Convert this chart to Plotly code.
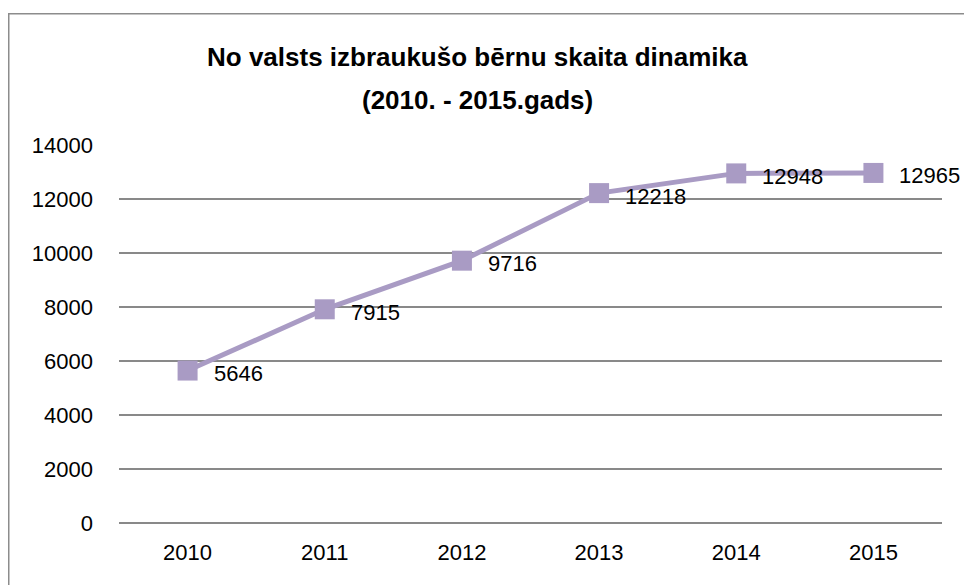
import plotly.graph_objects as go

years = ["2010", "2011", "2012", "2013", "2014", "2015"]
values = [5646, 7915, 9716, 12218, 12948, 12965]
y_ticks = [0, 2000, 4000, 6000, 8000, 10000, 12000, 14000]

title_lines = ["No valsts izbraukušo bērnu skaita dinamika", "(2010. - 2015.gads)"]

color = "#A99BC4"
font_family = "Liberation Sans, Arial, sans-serif"

W, H = 964, 585
L = 119
R = W - 942
T = 145
B = H - 523
pw = W - L - R
ph = H - T - B


def px_to_paper_x(px):
    return (px - L) / pw


def px_to_paper_y(py):
    return (H - B - py) / ph


fig = go.Figure()
fig.add_trace(go.Scatter(
    x=years, y=values,
    mode="lines+markers",
    line=dict(color=color, width=5),
    marker=dict(symbol="square", size=20, color=color),
    cliponaxis=False,
    hoverinfo="skip",
))

annotations = []
for i, v in enumerate(values):
    annotations.append(dict(
        x=i, y=v, xref="x", yref="y",
        text=str(v), showarrow=False,
        xanchor="left", yanchor="middle",
        xshift=24, yshift=-3,
        font=dict(family=font_family, size=22, color="#000000"),
    ))

title_y = [57, 100]
for line, ty in zip(title_lines, title_y):
    annotations.append(dict(
        x=px_to_paper_x(477), y=px_to_paper_y(ty), xref="paper", yref="paper",
        text="<b>" + line + "</b>", showarrow=False,
        xanchor="center", yanchor="middle",
        font=dict(family=font_family, size=26, color="#000000"),
    ))

fig.update_layout(
    width=W, height=H,
    margin=dict(l=L, r=R, t=T, b=B),
    paper_bgcolor="white",
    plot_bgcolor="white",
    showlegend=False,
    annotations=annotations,
    xaxis=dict(
        type="category",
        range=[-0.5, 5.5],
        showgrid=False,
        showline=False,
        zeroline=False,
        ticks="",
        tickfont=dict(family=font_family, size=22, color="#000000"),
        ticklabelstandoff=14,
    ),
    yaxis=dict(
        range=[0, 14000],
        tickvals=y_ticks,
        ticktext=[str(v) for v in y_ticks],
        showgrid=True,
        gridcolor="#898989",
        gridwidth=1.5,
        zeroline=True,
        zerolinecolor="#898989",
        zerolinewidth=1.5,
        showline=False,
        ticks="",
        tickfont=dict(family=font_family, size=22, color="#000000"),
        ticklabelstandoff=25,
    ),
)

# outer chart border (left and top visible; right/bottom run off the image)
fig.add_shape(type="rect", xref="paper", yref="paper",
              x0=px_to_paper_x(8.75), x1=px_to_paper_x(990),
              y0=px_to_paper_y(610), y1=px_to_paper_y(13.75),
              line=dict(color="#8C8C8C", width=1.5), layer="below")

fig.write_html(
    "out.html",
    config={"displayModeBar": False, "staticPlot": True},
    post_script="document.body.style.margin='0';document.body.style.overflow='hidden';",
)
